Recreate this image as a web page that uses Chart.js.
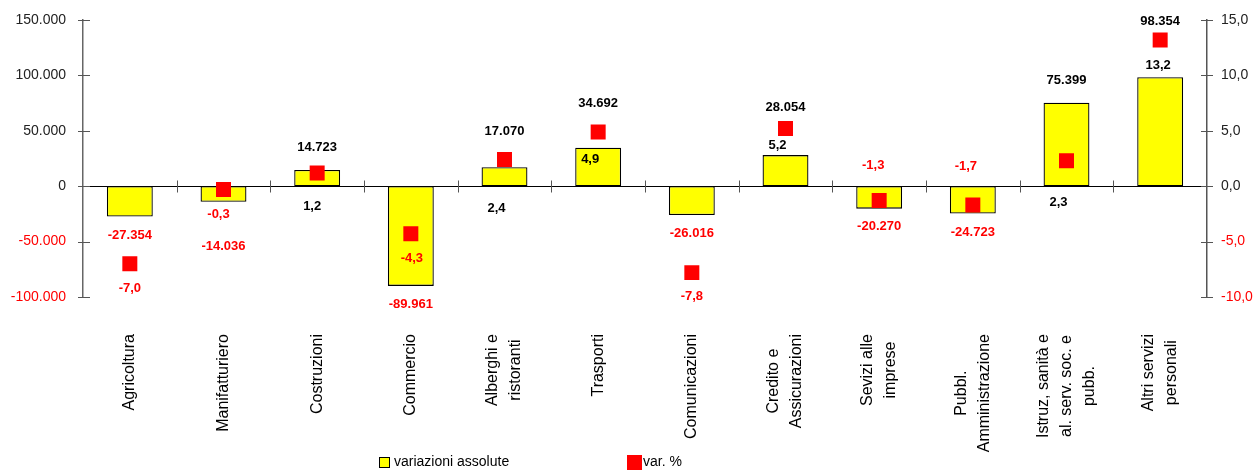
<!DOCTYPE html>
<html>
<head>
<meta charset="utf-8">
<script src="https://cdn.jsdelivr.net/npm/chart.js@4"></script>
<style>
  html, body { margin: 0; padding: 0; background: #fff; }
  #wrap { width: 1255px; height: 471px; position: relative; }
</style>
</head>
<body>
<div id="wrap"><canvas id="varChart"></canvas></div>
<script>
// data
const categories = [
  ['Agricoltura'], ['Manifatturiero'], ['Costruzioni'], ['Commercio'],
  ['Alberghi e', 'ristoranti'], ['Trasporti'], ['Comunicazioni'],
  ['Credito e', 'Assicurazioni'], ['Sevizi alle', 'imprese'],
  ['Pubbl.', 'Amministrazione'], ['Istruz, sanità e', 'al. serv. soc. e', 'pubb.'],
  ['Altri servizi', 'personali']
];
const absValues = [-27354, -14036, 14723, -89961, 17070, 34692, -26016, 28054, -20270, -24723, 75399, 98354];
const pctValues = [-7.0, -0.3, 1.2, -4.3, 2.4, 4.9, -7.8, 5.2, -1.3, -1.7, 2.3, 13.2];
const absTicks = [-100000, -50000, 0, 50000, 100000, 150000];
const pctTicks = [-10, -5, 0, 5, 10, 15];
const seriesNames = ['variazioni assolute', 'var. %'];

// label placement (px, relative to bar end / point)
const barLabelDy = [19, 45, -22, 19, -36, -44, 18, -48, 18, 19, -22, -56];
const pctLabelOff = [[0, 25], [-5, 25], [-5, 34], [1, 25], [-8, 49], [-8, 28],
                     [0, 24], [-8, 17], [-6, -35], [-7, -39], [-8, 42], [-2, 25]];

const FONT = '"Liberation Sans", Arial, sans-serif';
const RED = '#ff0000';

function fmtAbs(v) {
  const s = String(Math.abs(Math.round(v))).replace(/\B(?=(\d{3})+(?!\d))/g, '.');
  return (v < 0 ? '-' : '') + s;
}
function fmtPct(v) {
  return v.toFixed(1).replace('.', ',');
}

const decor = {
  id: 'decor',
  beforeDatasetsDraw(chart) {
    const { ctx, chartArea, scales: { x, y, y1 } } = chart;
    const zeroY = Math.round(y.getPixelForValue(0)) + 0.5;
    ctx.save();
    ctx.strokeStyle = '#000';
    ctx.lineWidth = 1;
    ctx.beginPath();
    ctx.moveTo(chartArea.left, zeroY);
    ctx.lineTo(chartArea.right, zeroY);
    ctx.stroke();
    ctx.strokeStyle = '#555';
    ctx.beginPath();
    for (let i = 1; i < categories.length; i++) {
      const bx = Math.round((x.getPixelForValue(i - 1) + x.getPixelForValue(i)) / 2) + 0.5;
      ctx.moveTo(bx, zeroY - 6);
      ctx.lineTo(bx, zeroY + 6);
    }
    absTicks.forEach(v => {
      const py = Math.round(y.getPixelForValue(v)) + 0.5;
      ctx.moveTo(chartArea.left - 5, py);
      ctx.lineTo(chartArea.left + 7, py);
    });
    pctTicks.forEach(v => {
      const py = Math.round(y1.getPixelForValue(v)) + 0.5;
      ctx.moveTo(chartArea.right - 6, py);
      ctx.lineTo(chartArea.right + 6, py);
    });
    ctx.stroke();
    ctx.restore();
  },
  afterDatasetsDraw(chart) {
    const { ctx } = chart;
    const bars = chart.getDatasetMeta(0).data;
    const pts = chart.getDatasetMeta(1).data;
    ctx.save();
    ctx.font = 'bold 13px ' + FONT;
    ctx.textAlign = 'center';
    ctx.textBaseline = 'middle';
    bars.forEach((bar, i) => {
      ctx.fillStyle = absValues[i] < 0 ? RED : '#000';
      ctx.fillText(fmtAbs(absValues[i]), bar.x, bar.y + barLabelDy[i]);
    });
    pts.forEach((p, i) => {
      ctx.fillStyle = pctValues[i] < 0 ? RED : '#000';
      ctx.fillText(fmtPct(pctValues[i]), p.x + pctLabelOff[i][0], p.y + pctLabelOff[i][1]);
    });
    ctx.restore();
  },
  afterDraw(chart) {
    const { ctx, scales: { x } } = chart;
    ctx.save();
    // category labels, rotated
    ctx.font = '16px ' + FONT;
    ctx.fillStyle = '#000';
    ctx.textAlign = 'center';
    ctx.textBaseline = 'middle';
    categories.forEach((lines, i) => {
      const w = Math.max(...lines.map(l => ctx.measureText(l).width));
      const cx = x.getPixelForValue(i);
      ctx.save();
      ctx.translate(cx, 334 + w / 2);
      ctx.rotate(-Math.PI / 2);
      lines.forEach((l, j) => ctx.fillText(l, 0, (j - (lines.length - 1) / 2) * 23));
      ctx.restore();
    });
    // legend
    ctx.font = '14px ' + FONT;
    ctx.textAlign = 'left';
    ctx.fillStyle = '#ffff00';
    ctx.fillRect(379.5, 457.5, 10, 10);
    ctx.strokeStyle = '#000';
    ctx.lineWidth = 1;
    ctx.strokeRect(379.5, 457.5, 10, 10);
    ctx.fillStyle = '#000';
    ctx.fillText(seriesNames[0], 394, 462);
    ctx.fillStyle = RED;
    ctx.fillRect(627, 455, 15, 15);
    ctx.fillStyle = '#000';
    ctx.fillText(seriesNames[1], 643, 462);
    ctx.restore();
  }
};

function fitY(width) {
  return scale => {
    scale.width = width;
    scale.paddingTop = 0;
    scale.paddingBottom = 0;
  };
}

const ctx = document.getElementById('varChart').getContext('2d');
new Chart(ctx, {
  type: 'bar',
  data: {
    labels: categories,
    datasets: [{
      label: seriesNames[0],
      data: absValues,
      backgroundColor: '#ffff00',
      borderColor: '#000',
      borderWidth: 1.3,
      borderSkipped: false,
      categoryPercentage: 1,
      barPercentage: 0.49,
      yAxisID: 'y',
      order: 2
    }, {
      type: 'line',
      label: seriesNames[1],
      data: pctValues,
      showLine: false,
      pointStyle: 'rect',
      pointRadius: 10.6,
      pointHoverRadius: 10.6,
      pointBackgroundColor: RED,
      pointBorderColor: RED,
      pointBorderWidth: 0,
      yAxisID: 'y1',
      order: 1
    }]
  },
  options: {
    responsive: true,
    maintainAspectRatio: false,
    animation: false,
    layout: { padding: { top: 20, left: 0, right: 0, bottom: 0 } },
    plugins: {
      legend: { display: false },
      tooltip: { enabled: false }
    },
    scales: {
      x: {
        ticks: { display: false },
        grid: { display: false },
        border: { display: false },
        afterFit(scale) { scale.height = 174; }
      },
      y: {
        position: 'left',
        min: absTicks[0],
        max: absTicks[absTicks.length - 1],
        afterBuildTicks(scale) { scale.ticks = absTicks.map(v => ({ value: v })); },
        ticks: {
          padding: 17,
          font: { size: 14, family: FONT },
          color: c => c.tick.value < 0 ? RED : '#222',
          callback: v => fmtAbs(v)
        },
        grid: { display: false, drawTicks: false },
        border: { display: true, color: '#666', width: 1.5 },
        afterFit: fitY(83)
      },
      y1: {
        position: 'right',
        min: pctTicks[0],
        max: pctTicks[pctTicks.length - 1],
        afterBuildTicks(scale) { scale.ticks = pctTicks.map(v => ({ value: v })); },
        ticks: {
          padding: 14,
          font: { size: 14, family: FONT },
          color: c => c.tick.value < 0 ? RED : '#222',
          callback: v => fmtPct(v)
        },
        grid: { display: false, drawTicks: false },
        border: { display: true, color: '#555', width: 1.5 },
        afterFit: fitY(48)
      }
    }
  },
  plugins: [decor]
});
</script>
</body>
</html>
